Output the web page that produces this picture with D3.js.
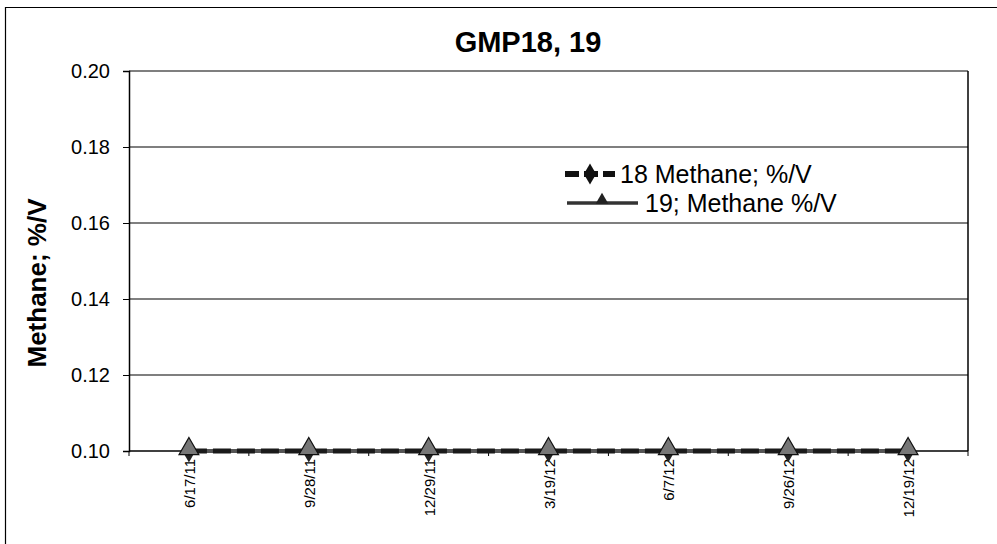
<!DOCTYPE html>
<html>
<head>
<meta charset="utf-8">
<script src="https://cdn.jsdelivr.net/npm/d3@7"></script>
<style>
  body { margin: 0; background: #fff; }
  svg { display: block; font-family: Arial, "Liberation Sans", sans-serif; }
</style>
</head>
<body>
<svg width="997" height="544"></svg>
<script>
// chart data
const dates = ["6/17/11", "9/28/11", "12/29/11", "3/19/12", "6/7/12", "9/26/12", "12/19/12"];
const methane18 = [0.10, 0.10, 0.10, 0.10, 0.10, 0.10, 0.10];
const methane19 = [0.10, 0.10, 0.10, 0.10, 0.10, 0.10, 0.10];
const yTicks = [0.10, 0.12, 0.14, 0.16, 0.18, 0.20];
const seriesNames = ["18 Methane; %/V", "19; Methane %/V"];

const svg = d3.select("svg");
const plot = { left: 129, top: 71, right: 968, bottom: 451 };

// outer frame
svg.append("path")
  .attr("d", "M5.5,544 L5.5,7.5 L997,7.5")
  .attr("fill", "none")
  .attr("stroke", "#000")
  .attr("stroke-width", 1.2);

const x = d3.scaleBand().domain(dates).range([plot.left, plot.right]);
const y = d3.scaleLinear().domain([0.10, 0.20]).range([plot.bottom, plot.top]);

// gridlines
svg.append("g")
  .selectAll("line")
  .data(yTicks.slice(1))
  .join("line")
  .attr("x1", plot.left).attr("x2", plot.right)
  .attr("y1", d => y(d)).attr("y2", d => y(d))
  .attr("stroke", "#000").attr("stroke-width", 1.2);

// right border of plot
svg.append("line")
  .attr("x1", plot.right).attr("x2", plot.right)
  .attr("y1", plot.top).attr("y2", plot.bottom)
  .attr("stroke", "#000").attr("stroke-width", 1.5);

// y axis
const yAxis = svg.append("g")
  .attr("transform", `translate(${plot.left},0)`)
  .call(d3.axisLeft(y).tickValues(yTicks).tickFormat(d3.format(".2f")).tickSize(6).tickPadding(13));
yAxis.select(".domain").attr("stroke-width", 1.5);
yAxis.selectAll("text").attr("font-size", 20).attr("fill", "#000");

// x axis: ticks at category boundaries
const xAxis = svg.append("g").attr("transform", `translate(0,${plot.bottom})`);
xAxis.append("line")
  .attr("x1", plot.left).attr("x2", plot.right)
  .attr("stroke", "#000").attr("stroke-width", 1.5);
xAxis.selectAll("line.tick")
  .data(d3.range(dates.length + 1))
  .join("line")
  .attr("class", "tick")
  .attr("x1", i => plot.left + i * x.bandwidth())
  .attr("x2", i => plot.left + i * x.bandwidth())
  .attr("y1", 0).attr("y2", 5)
  .attr("stroke", "#000");
xAxis.selectAll("text")
  .data(dates)
  .join("text")
  .attr("transform", d => `translate(${x(d) + x.bandwidth() / 2 + 6},8) rotate(-90)`)
  .attr("text-anchor", "end")
  .attr("font-size", 15)
  .text(d => d);

const cx = d => x(d) + x.bandwidth() / 2;
const line = d3.line().x((d, i) => cx(dates[i])).y(d => y(d));

// series 19: solid gray with triangles
svg.append("path")
  .datum(methane19)
  .attr("d", line)
  .attr("fill", "none")
  .attr("stroke", "#555")
  .attr("stroke-width", 4);

// series 18: dashed black with diamonds
svg.append("path")
  .datum(methane18)
  .attr("d", line)
  .attr("fill", "none")
  .attr("stroke", "#1a1a1a")
  .attr("stroke-width", 5)
  .attr("stroke-dasharray", "18,6");

const diamond = d3.symbol().type(d3.symbolDiamond).size(150);
const triangle = d3.symbol().type(d3.symbolTriangle).size(170);

svg.append("g")
  .selectAll("path")
  .data(methane18)
  .join("path")
  .attr("transform", (d, i) => `translate(${cx(dates[i])},${y(d)})`)
  .attr("d", diamond)
  .attr("fill", "#222");

svg.append("g")
  .selectAll("path")
  .data(methane19)
  .join("path")
  .attr("transform", (d, i) => `translate(${cx(dates[i])},${y(d) - 2})`)
  .attr("d", triangle)
  .attr("fill", "#777")
  .attr("stroke", "#111")
  .attr("stroke-width", 1.2);

// title
svg.append("text")
  .attr("x", 528).attr("y", 52)
  .attr("text-anchor", "middle")
  .attr("font-size", 29)
  .attr("font-weight", "bold")
  .text("GMP18, 19");

// y axis title
svg.append("text")
  .attr("transform", "translate(46,283) rotate(-90)")
  .attr("text-anchor", "middle")
  .attr("font-size", 26)
  .attr("font-weight", "bold")
  .text("Methane; %/V");

// legend
const legend = svg.append("g");
legend.append("line")
  .attr("x1", 565).attr("x2", 615).attr("y1", 174).attr("y2", 174)
  .attr("stroke", "#111").attr("stroke-width", 6).attr("stroke-dasharray", "14,5");
legend.append("path")
  .attr("transform", "translate(590,174)")
  .attr("d", d3.symbol().type(d3.symbolDiamond).size(130))
  .attr("fill", "#111");
legend.append("text")
  .attr("x", 620).attr("y", 183)
  .attr("font-size", 25)
  .text(seriesNames[0]);

legend.append("line")
  .attr("x1", 567).attr("x2", 638).attr("y1", 203).attr("y2", 203)
  .attr("stroke", "#333").attr("stroke-width", 3.5);
legend.append("path")
  .attr("transform", "translate(602,200)")
  .attr("d", d3.symbol().type(d3.symbolTriangle).size(70))
  .attr("fill", "#222");
legend.append("text")
  .attr("x", 645).attr("y", 212)
  .attr("font-size", 25)
  .text(seriesNames[1]);
</script>
</body>
</html>
